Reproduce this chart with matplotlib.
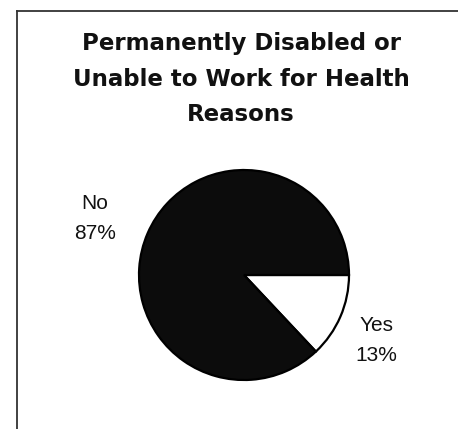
import matplotlib
matplotlib.use("Agg")
import matplotlib.pyplot as plt
import numpy as np

title = "Permanently Disabled or\nUnable to Work for Health\nReasons"
categories = ["Yes", "No"]
values = [13, 87]
colors = ["white", "#0c0c0c"]

W, H = 458, 429
fig = plt.figure(figsize=(W / 100, H / 100), dpi=100)
ax = fig.add_axes([0, 0, 1, 1])

cx, cy, r = 244, H - 275, 105
wedges, _ = ax.pie(values, colors=colors, startangle=0, counterclock=False,
                   center=(cx, cy), radius=r, frame=True,
                   wedgeprops=dict(edgecolor="black", linewidth=1.6))
ax.set_xlim(0, W)
ax.set_ylim(0, H)
ax.set_aspect("equal")
ax.axis("off")

# label placement: (distance in radii, angle tweak in degrees)
place = {"Yes": (1.41, -3.0), "No": (1.52, 2.8)}
for w, cat, v in zip(wedges, categories, values):
    d, dang = place[cat]
    ang = np.deg2rad((w.theta1 + w.theta2) / 2 + dang)
    ax.text(cx + d * r * np.cos(ang), cy + d * r * np.sin(ang), f"{cat}\n{v}%",
            ha="center", va="center", fontsize=15, family="Liberation Sans",
            linespacing=1.72, color="#111111")

ax.text(241, H - 79, title, ha="center", va="center", fontsize=16.5,
        fontweight="bold", family="DejaVu Sans", linespacing=1.72,
        color="#111111")

# frame lines
ax.plot([17, 17], [H - 11, 0], color="#333333", lw=1.3)
ax.plot([17, W], [H - 11, H - 11], color="#333333", lw=1.3)

fig.savefig("out.png", dpi=100)
